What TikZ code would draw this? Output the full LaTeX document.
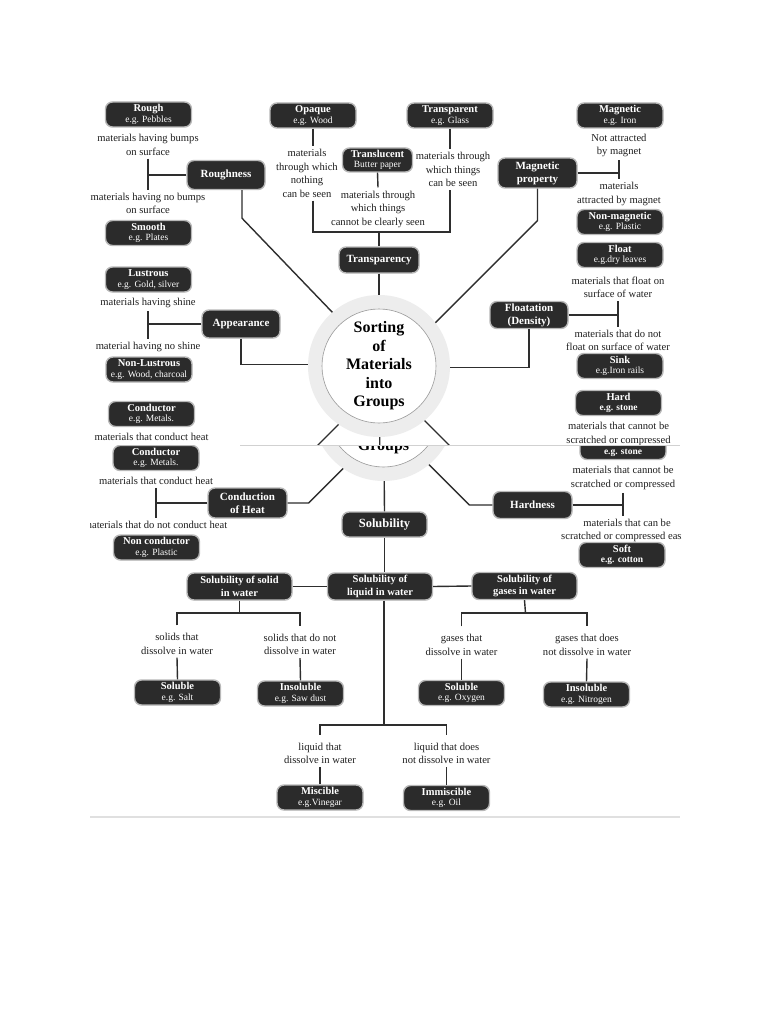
\documentclass[tikz,border=0pt]{standalone}
\usepackage{fontspec}
\setmainfont{Liberation Serif}
\definecolor{boxc}{HTML}{2B2B2B}
\definecolor{ringc}{HTML}{EDEDED}
\definecolor{linec}{HTML}{2E2E2E}
\newcommand\EGline{\mdseries\fontsize{9.5}{10}\selectfont}
\newcommand\EGbold{\fontsize{9.5}{10}\selectfont}
\tikzset{
  leaf/.style={rounded corners=7pt, fill=boxc, draw=black!28, line width=1.4pt, text=white,
    align=center, inner sep=0pt, minimum width=86pt, minimum height=25pt,
    font=\bfseries\fontsize{10.5}{10.5}\selectfont},
  cat/.style={leaf, minimum width=78pt, minimum height=29pt, font=\bfseries\fontsize{11}{13}\selectfont},
  subcat/.style={leaf, minimum width=105pt, minimum height=27pt, font=\bfseries\fontsize{10.5}{12.5}\selectfont},
  solcat/.style={leaf, minimum width=85pt, minimum height=25pt, font=\bfseries\fontsize{12.5}{13}\selectfont},
  lbl/.style={align=center, inner xsep=0pt, inner ysep=3pt, font=\fontsize{10.6}{13.5}\selectfont, text=black!88},
  conn/.style={draw=linec, line width=1.4pt},
  hubtext/.style={circle, inner sep=0pt, minimum size=114pt, align=center,
    font=\bfseries\fontsize{16}{18.5}\selectfont},
}
% ---------- upper half of the chart ----------
\newcommand\partupper{%
\begin{scope}[shift={(4.5,44)}]
% roughness
\node[leaf] (rough) at (148.5,114.5) {Rough\\\EGline e.g. Pebbles};
\node[lbl] (lbump) at (148,145) {materials having bumps\\on surface};
\node[cat] (roughness) at (226,175) {Roughness};
\node[lbl] (lnobump) at (148,203.5) {materials having no bumps\\on surface};
\node[leaf] (smooth) at (148.5,233) {Smooth\\\EGline e.g. Plates};
\draw[conn] (lbump.south) -- (lnobump.north);
\draw[conn] (roughness.west) -- (roughness.west -| lbump.south);
\draw[conn] ([xshift=16pt]roughness.south) -- ++(0,28) -- ++(96,100);
% transparency
\node[leaf] (opaque) at (313,115.5) {Opaque\\\EGline e.g. Wood};
\node[leaf] (transparent) at (450,115.5) {Transparent\\\EGline e.g. Glass};
\node[leaf, minimum width=70pt, minimum height=24pt] (translucent) at (377.5,160) {Translucent\\\EGline Butter paper};
\node[lbl] (lopaque) at (307,173.5) {materials\\through which\\nothing\\can be seen};
\node[lbl] (ltransl) at (378,209) {materials through\\which things\\cannot be clearly seen};
\node[lbl] (ltransp) at (453,169.5) {materials through\\which things\\can be seen};
\node[cat, minimum width=80pt, minimum height=26pt] (transparency) at (379,260) {Transparency};
\coordinate (tjoin) at (379,232);
\draw[conn] (opaque.south) -- (opaque.south |- lopaque.north);
\draw[conn] (translucent.south) -- (ltransl.north);
\draw[conn] (transparent.south) -- (transparent.south |- ltransp.north);
\draw[conn] (lopaque.south -| opaque.south) |- (tjoin) -| (ltransp.south -| transparent.south);
\draw[conn] (tjoin) -- (transparency.north);
\draw[conn] (transparency.south) -- ++(0,40);
% magnetic
\node[leaf] (magnetic) at (620,115.5) {Magnetic\\\EGline e.g. Iron};
\node[lbl] (lnotattr) at (619,145.5) {Not attracted\\by magnet};
\node[cat, minimum width=79pt, minimum height=30pt] (magprop) at (537.5,173) {Magnetic\\property};
\node[lbl] (lattr) at (619,194) {materials\\attracted by magnet};
\node[leaf] (nonmag) at (620,222) {Non-magnetic\\\EGline e.g. Plastic};
\draw[conn] (lnotattr.south) -- (lattr.north);
\draw[conn] (magprop.east) -- (magprop.east -| lnotattr.south);
\draw[conn] (magprop.south) -- ++(0,32) -- ++(-110,110);
% appearance
\node[leaf] (lustrous) at (148.5,279.5) {Lustrous\\\EGline e.g. Gold, silver};
\node[lbl] (lshine) at (148,303) {materials having shine};
\node[cat, minimum height=28pt] (appear) at (241,324) {Appearance};
\node[lbl] (lnoshine) at (148,347) {material having no shine};
\node[leaf] (nonlust) at (149,369.5) {Non-Lustrous\\\EGline e.g. Wood, charcoal};
\draw[conn] (lshine.south) -- (lnoshine.north);
\draw[conn] (appear.west) -- (appear.west -| lshine.south);
\draw[conn] (appear.south) |- ++(100,26);
% floatation
\node[leaf] (floatb) at (620,255) {Float\\\EGline e.g.dry leaves};
\node[lbl] (lfloat) at (618,287.5) {materials that float on\\surface of water};
\node[cat, minimum height=27pt] (floatation) at (529,315) {Floatation\\(Density)};
\node[lbl] (lsink) at (618,340.5) {materials that do not\\float on surface of water};
\node[leaf] (sink) at (620,366) {Sink\\\EGline e.g.Iron rails};
\draw[conn] (lfloat.south) -- (lsink.north);
\draw[conn] (floatation.east) -- (floatation.east -| lfloat.south);
\draw[conn] (floatation.south) |- ++(-100,38);
\end{scope}
}
% ---------- conductor / hard boxes (seen twice in the scan) ----------
\newcommand\partmid[1]{%
\node[leaf] (conductor) at (156,458) {Conductor\\\EGline e.g. Metals.};
\node[lbl] (lcond) at (156,481) {materials that conduct heat};
\node[leaf] (hard) at (623,447) {#1\\\EGbold e.g. stone};
\node[lbl] (lhard) at (623,478) {materials that cannot be\\scratched or compressed};
}
% ---------- lower half of the chart ----------
\newcommand\partlower{%
\node[cat, minimum width=79pt, minimum height=30pt] (cond) at (247.5,503) {Conduction\\of Heat};
\node[lbl] (lnocond) at (155.5,525) {materials that do not conduct heat};
\node[leaf] (noncond) at (156.5,547.5) {Non conductor\\\EGline e.g. Plastic};
\draw[conn] (lcond.south) -- (lcond.south |- lnocond.north);
\draw[conn] (cond.west) -- (cond.west -| lcond.south);
\draw[conn] (cond.east) -- ++(21,0) -- ++(45,-45);
\node[cat, minimum width=79pt, minimum height=27pt] (hardness) at (532.5,505) {Hardness};
\node[lbl] (lsoft) at (627,530.5) {materials that can be\\scratched or compressed easily};
\node[leaf] (soft) at (622,555) {Soft\\\EGbold e.g. cotton};
\draw[conn] (lhard.south) -- (lhard.south |- lsoft.north);
\draw[conn] (hardness.east) -- (hardness.east -| lhard.south);
\draw[conn] (hardness.west) -- ++(-23,0) -- ++(-50,-50);
\node[solcat] (solub) at (384.5,524.5) {Solubility};
\node[subcat] (solid) at (239.5,586.5) {Solubility of solid\\in water};
\node[subcat] (liquid) at (380,586.5) {Solubility of\\liquid in water};
\node[subcat] (gases) at (524.5,586) {Solubility of\\gases in water};
\draw[conn] (solub.north) -- (circ);
\draw[conn] (solub.south) -- (solub.south |- liquid.north);
\draw[conn] (solid.east) -- (liquid.west);
\draw[conn] (liquid.east) -- (gases.west);
% solids
\node[lbl] (ls1) at (177,644) {solids that\\dissolve in water};
\node[lbl] (ls2) at (300,644.5) {solids that do not\\dissolve in water};
\node[leaf] (sol1) at (177.5,692.5) {Soluble\\\EGline e.g. Salt};
\node[leaf] (sol2) at (300.5,693.5) {Insoluble\\\EGline e.g. Saw dust};
\coordinate (sj) at (239.5,613);
\draw[conn] (solid.south) -- (sj);
\draw[conn] (ls1.north) ++(0,-5) |- (sj) -| ([yshift=5pt]ls2.north);
\draw[conn] (ls1.south) -- (sol1.north);
\draw[conn] (ls2.south) -- (sol2.north);
% gases
\node[lbl] (lg1) at (461.5,645) {gases that\\dissolve in water};
\node[lbl] (lg2) at (587,645) {gases that does\\not dissolve in water};
\node[leaf] (gsol) at (461.5,693) {Soluble\\\EGline e.g. Oxygen};
\node[leaf] (ginsol) at (586.5,694.5) {Insoluble\\\EGline e.g. Nitrogen};
\coordinate (gj) at (525.5,613);
\draw[conn] (gases.south) -- (gj);
\draw[conn] (lg1.north) ++(0,-5) |- (gj) -| ([yshift=5pt]lg2.north);
\draw[conn] (lg1.south) -- (gsol.north);
\draw[conn] (lg2.south) -- (ginsol.north);
% liquids
\node[lbl] (ll1) at (320,753.5) {liquid that\\dissolve in water};
\node[lbl] (ll2) at (446.5,753.5) {liquid that does\\not dissolve in water};
\node[leaf] (misc) at (320,797.5) {Miscible\\\EGline e.g.Vinegar};
\node[leaf] (immisc) at (446.5,798) {Immiscible\\\EGline e.g. Oil};
\coordinate (lj) at (384,725);
\draw[conn] (liquid.south -| lj) -- (lj);
\draw[conn] (ll1.north) ++(0,-5) |- (lj) -| ([yshift=5pt]ll2.north);
\draw[conn] (ll1.south) -- (misc.north);
\draw[conn] (ll2.south) -- (immisc.north);
}
% ---------- hub ----------
\newcommand\hubdisk{%
\node[circle, fill=ringc, minimum size=142pt, inner sep=0pt] (ring) at (circ) {};
\node[circle, fill=white, draw=black!40, line width=0.6pt, minimum size=114pt, inner sep=0pt] (disk) at (circ) {};
}
\begin{document}
\begin{tikzpicture}[x=1pt,y=-1pt]
\useasboundingbox (0,0) rectangle (768,1024);
\fill[white] (0,0) rectangle (768,1024);
% upper strip of the scan
\begin{scope}
\clip (90,0) rectangle (681,445);
\begin{scope}[shift={(-4.5,-44)},name prefix=t-]
\coordinate (circ) at (383.5,410);
\partupper
\partmid{Hard}
\coordinate (condE) at (287.5,503);
\coordinate (hardW) at (492.5,505);
\coordinate (solN) at (384.5,512);
\draw[conn] (condE) -- ++(21,0) -- ++(45,-45);
\draw[conn] (hardW) -- ++(-23,0) -- ++(-50,-50);
\draw[conn] (solN) -- (circ);
\hubdisk
\node[hubtext] (hub) at (circ) {Sorting\\of\\Materials\\into\\Groups};
\end{scope}
\end{scope}
% lower strip of the scan (same chart, shifted)
\begin{scope}
\clip (90,445) rectangle (681,1024);
\begin{scope}[name prefix=b-]
\coordinate (circ) at (383.5,410);
\partmid{\phantom{Hard}}
\partlower
\hubdisk
\node[hubtext] (hub) at (circ) {\phantom{Sorting}\\\phantom{of}\\\phantom{Materials}\\\phantom{into}\\Groups};
\end{scope}
\end{scope}
\draw[black!18, line width=0.8pt] (240,445.3) -- (680,445.3);
\draw[black!12, line width=1.5pt] (90,817) -- (680,817);
\end{tikzpicture}
\end{document}
